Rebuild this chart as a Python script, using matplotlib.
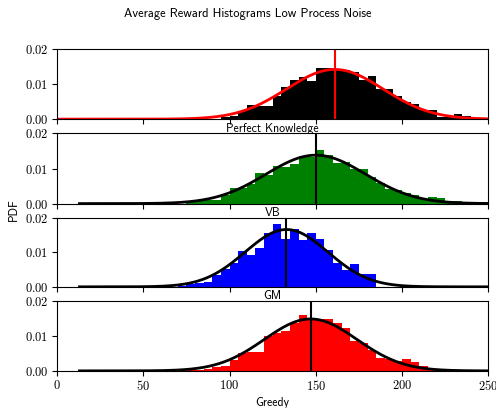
import numpy as np
import matplotlib
matplotlib.use("Agg")
import matplotlib.pyplot as plt

plt.rcParams['font.family'] = ['cmss10', 'DejaVu Sans']
plt.rcParams['mathtext.fontset'] = 'cm'
plt.rcParams['axes.formatter.use_mathtext'] = True
plt.rcParams['axes.unicode_minus'] = False

# bin width (reward units)
bin_w = 5

# histogram densities, in units of 1e-3
pk_start = 95
pk_hist = [0.5, 0.9, 2.2, 4.1, 3.8, 3.8, 6.5, 9.3, 11.1, 12.0, 10.8, 14.6, 14.6, 14.1,
           14.1, 13.6, 11.2, 12.3, 8.6, 8.6, 6.6, 5.0, 4.4, 2.7, 2.7, 0.6, 0.6, 1.5, 1.0, 0.3]
vb_start = 75
vb_hist = [0.4, 0.6, 1.0, 0.9, 2.5, 4.4, 4.4, 5.5, 8.6, 8.2, 10.7, 10.3, 11.2, 13.6, 13.4,
           15.3, 13.8, 11.5, 11.9, 9.8, 9.8, 7.5, 6.0, 4.1, 3.9, 3.1, 2.5, 1.2, 1.8, 1.5, 0.8, 0.6]
gm_start = 70
gm_hist = [0.3, 0.7, 1.0, 1.4, 3.4, 5.3, 6.8, 10.3, 9.2, 11.3, 15.7, 18.2, 14.0, 16.9, 13.7,
           15.5, 14.0, 10.6, 6.8, 4.8, 6.6, 3.7, 3.7]
gr_start = 75
gr_hist = [0.2, 0.3, 0.5, 1.2, 1.4, 3.1, 5.0, 5.4, 5.4, 10.0, 10.8, 11.4, 13.6, 16.0, 15.0,
           15.0, 15.0, 13.6, 12.2, 8.7, 7.9, 6.0, 3.6, 3.3, 2.7, 3.3, 2.5, 1.4, 0.6, 0.3, 0.5]

# fitted normal params (mean, std) and where the fitted curve starts
means = [161, 150, 133, 147]
stds = [28, 28.9, 24, 26.8]
curve_lo = [0, 13, 13, 13]

names = ["Perfect Knowledge", "VB", "GM", "Greedy"]
starts = [pk_start, vb_start, gm_start, gr_start]
hists = [pk_hist, vb_hist, gm_hist, gr_hist]
bar_colors = ['black', 'green', 'blue', 'red']
line_colors = ['red', 'black', 'black', 'black']

fig = plt.figure(figsize=(4.96, 4.08), dpi=100)

# axes rows: [bottom, top] in figure fraction
rows = [(0.708, 0.879), (0.501, 0.673), (0.297, 0.466), (0.091, 0.262)]
left, right = 0.115, 0.9845

for i in range(4):
    b, t = rows[i]
    ax = fig.add_axes([left, b, right - left, t - b])
    h = np.array(hists[i]) * 1e-3
    edges = starts[i] + bin_w * np.arange(len(h))
    ax.bar(edges, h, width=bin_w, align='edge', color=bar_colors[i], linewidth=0)

    xs = np.linspace(curve_lo[i], 250, 400)
    pdf = np.exp(-0.5 * ((xs - means[i]) / stds[i]) ** 2) / (stds[i] * np.sqrt(2 * np.pi))
    ax.plot(xs, pdf, color=line_colors[i], lw=2)
    ax.axvline(means[i], color=line_colors[i], lw=1.5)

    ax.set_xlim(0, 250)
    ax.set_ylim(0, 0.02)
    ax.set_yticks([0, 0.01, 0.02])
    ax.set_xticks([0, 50, 100, 150, 200, 250])
    ax.tick_params(pad=2.5)
    for lab in ax.get_xticklabels() + ax.get_yticklabels():
        lab.set_fontfamily('cmr10')
        lab.set_fontsize(9)
    if i < 3:
        ax.tick_params(labelbottom=False)
        ax.set_xlabel(names[i], fontsize=8.5, labelpad=-1)
    else:
        ax.set_xlabel(names[i], fontsize=8.5, labelpad=3)

fig.text(0.5, 0.966, "Average Reward Histograms Low Process Noise",
         ha='center', va='center', fontsize=9)
fig.text(0.028, 0.485, "PDF", rotation=90, ha='center', va='center', fontsize=8.5)

fig.savefig("out.png", dpi=100)
